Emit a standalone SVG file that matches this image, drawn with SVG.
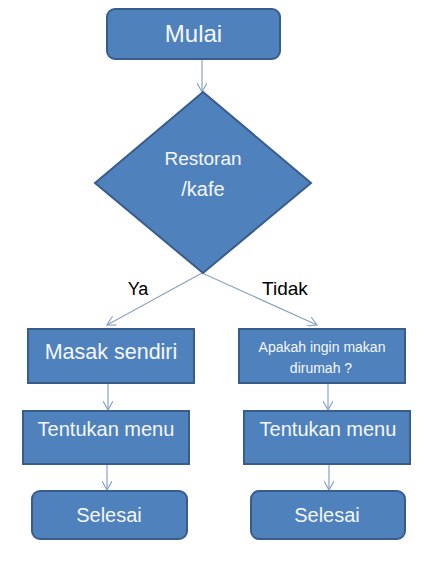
<svg xmlns="http://www.w3.org/2000/svg" width="430" height="572" viewBox="0 0 430 572">
<defs>
<style>
.n{fill:#4F81BD;stroke:#385D8A;stroke-width:2}
.t{fill:#F4F7FB;font-family:"Liberation Sans",Arial,sans-serif;text-anchor:middle}
.l{fill:#000;font-family:"Liberation Sans",Arial,sans-serif;text-anchor:middle}
.c{fill:none;stroke:#8AA2C6;stroke-width:1.2}
</style>
<marker id="a" viewBox="0 0 10 10" refX="9" refY="5" markerWidth="10" markerHeight="10" markerUnits="userSpaceOnUse" orient="auto">
<path d="M0,0 L9,5 L0,10" fill="none" stroke="#8AA2C6" stroke-width="1.2"/>
</marker>
</defs>
<rect width="430" height="572" fill="#fff"/>
<g id="connectors">
<line class="c" x1="202" y1="60" x2="202" y2="92" marker-end="url(#a)"/>
<line class="c" x1="202" y1="273" x2="107" y2="325" marker-end="url(#a)"/>
<line class="c" x1="202" y1="273" x2="317" y2="325" marker-end="url(#a)"/>
<line class="c" x1="108" y1="384" x2="108" y2="410" marker-end="url(#a)"/>
<line class="c" x1="328" y1="384" x2="328" y2="410" marker-end="url(#a)"/>
<line class="c" x1="107" y1="465" x2="107" y2="490" marker-end="url(#a)"/>
<line class="c" x1="329" y1="465" x2="329" y2="490" marker-end="url(#a)"/>
</g>
<g id="mulai">
<rect class="n" x="107" y="9" width="173" height="50" rx="8"/>
<text class="t" x="193.5" y="42" font-size="24">Mulai</text>
</g>
<g id="restoran">
<polygon class="n" points="203,92 311,183 203,273 95,183"/>
<text class="t" x="203" y="165" font-size="19">Restoran</text>
<text class="t" x="203" y="196" font-size="20">/kafe</text>
</g>
<g id="labels">
<text class="l" x="138" y="295" font-size="18">Ya</text>
<text class="l" x="285" y="295" font-size="19">Tidak</text>
</g>
<g id="masak">
<rect class="n" x="28" y="329" width="166" height="54"/>
<text class="t" x="111" y="359" font-size="21.5">Masak sendiri</text>
</g>
<g id="apakah">
<rect class="n" x="239" y="329" width="166" height="54"/>
<text class="t" x="322" y="352" font-size="14">Apakah ingin makan</text>
<text class="t" x="321" y="373" font-size="14">dirumah ?</text>
</g>
<g id="tentukan1">
<rect class="n" x="23" y="411" width="166" height="53"/>
<text class="t" x="106" y="436" font-size="20">Tentukan menu</text>
</g>
<g id="tentukan2">
<rect class="n" x="244" y="411" width="166" height="53"/>
<text class="t" x="328" y="436" font-size="20">Tentukan menu</text>
</g>
<g id="selesai1">
<rect class="n" x="32" y="491" width="155" height="48" rx="8"/>
<text class="t" x="109" y="522" font-size="20">Selesai</text>
</g>
<g id="selesai2">
<rect class="n" x="251" y="491" width="154" height="48" rx="8"/>
<text class="t" x="327" y="522" font-size="20">Selesai</text>
</g>
</svg>
